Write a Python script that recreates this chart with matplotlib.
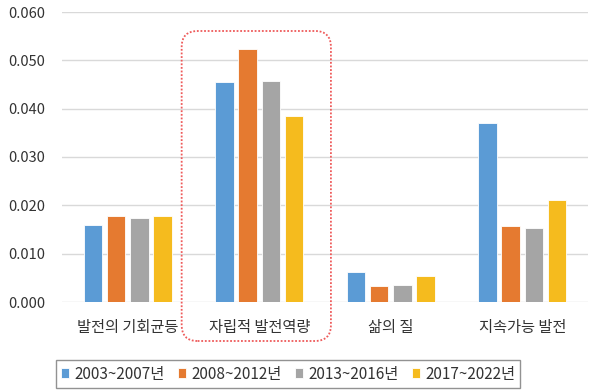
import numpy as np
import matplotlib
matplotlib.use('Agg')
import matplotlib.pyplot as plt
from matplotlib.patches import FancyBboxPatch
from matplotlib.transforms import IdentityTransform

plt.rcParams['font.family'] = ['Noto Sans CJK KR', 'DejaVu Sans']

categories = ['발전의 기회균등', '자립적 발전역량', '삶의 질', '지속가능 발전']
periods = ['2003~2007년', '2008~2012년', '2013~2016년', '2017~2022년']
values = [
    [0.0159, 0.0455, 0.0063, 0.0371],  # 2003~2007
    [0.0177, 0.0524, 0.0033, 0.0157],  # 2008~2012
    [0.0173, 0.0458, 0.0035, 0.0154],  # 2013~2016
    [0.0177, 0.0384, 0.0054, 0.0211],  # 2017~2022
]
colors = ['#5b9bd5', '#e57a30', '#a5a5a5', '#f5bb1e']
yticks = [0.0, 0.01, 0.02, 0.03, 0.04, 0.05, 0.06]

text_col = '#333333'

fig = plt.figure(figsize=(6, 3.91), dpi=100)
ax = fig.add_axes([62 / 600, 89 / 391, 526 / 600, 290 / 391])

x = np.arange(len(categories))
pitch = 0.177
width = 0.14
for i, (lab, vals, c) in enumerate(zip(periods, values, colors)):
    ax.bar(x + (i - 1.5) * pitch, vals, width, color=c, label=lab,
           edgecolor='white', linewidth=0.6, zorder=3)

ax.set_xlim(-0.5, len(categories) - 0.5)
ax.set_ylim(0, 0.06)
ax.set_yticks(yticks)
ax.set_yticklabels(['%.3f' % v for v in yticks], fontsize=10.5, color=text_col)
ax.set_xticks(x)
ax.set_xticklabels(categories, fontsize=11, color=text_col)
ax.tick_params(axis='both', length=0)
ax.tick_params(axis='x', pad=12)
ax.tick_params(axis='y', pad=12)
ax.grid(axis='y', color='#d9d9d9', linewidth=1.0, zorder=0)
for s in ax.spines.values():
    s.set_visible(False)

# highlight box around the second category (pixel coordinates)
fig.canvas.draw()
x0 = ax.transData.transform((x[1] - 0.59, 0))[0]
x1 = ax.transData.transform((x[1] + 0.545, 0))[0]
y0, y1 = 50, 360
r = 16
box = FancyBboxPatch((x0 + r, y0 + r), x1 - x0 - 2 * r, y1 - y0 - 2 * r,
                     boxstyle='round,pad=%d,rounding_size=%d' % (r, r),
                     transform=IdentityTransform(), fill=False,
                     edgecolor='#ee5a5a', linestyle=(0, (1, 1)), linewidth=1.3)
fig.patches.append(box)

leg = fig.legend(loc='center', bbox_to_anchor=(288 / 600, 17 / 391), ncol=4,
                 prop={'size': 11}, frameon=True, fancybox=False,
                 edgecolor='#777777', handlelength=0.55, handleheight=0.55,
                 handletextpad=0.3, columnspacing=0.9, borderpad=0.35,
                 borderaxespad=0)
leg.get_frame().set_linewidth(1.0)
for t in leg.get_texts():
    t.set_color(text_col)

fig.savefig('out.png', dpi=100)
